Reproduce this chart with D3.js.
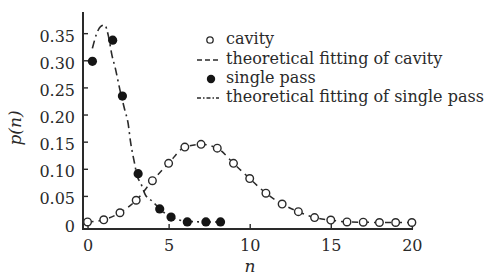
<!DOCTYPE html>
<html><head><meta charset="utf-8">
<script src="https://cdn.jsdelivr.net/npm/d3@7"></script>
<style>body{margin:0;background:#fff}svg{display:block}</style>
</head><body>
<script>
// ---- data ----
const cavityN = [0,1,2,3,4,5,6,7,8,9,10,11,12,13,14,15,16,17,18,19,20];
const cavityP = [0.002,0.006,0.019,0.042,0.078,0.110,0.140,0.145,0.138,0.110,0.082,0.055,0.035,0.021,0.010,0.0055,0.002,0.0015,0.001,0.001,0.001];
const singleN = [0.3,1.55,2.15,3.12,4.45,5.15,6.15,7.3,8.2];
const singleP = [0.298,0.337,0.234,0.091,0.026,0.011,0.002,0.002,0.002];
const singleFitN = [0.3,0.55,0.8,1.05,1.3,1.5,1.7,2.0,2.3,2.5,2.65,2.9,3.05,3.3,3.55,4.0,4.4,5.0,5.5,6.2,7.3,8.2];
const singleFitP = [0.322,0.348,0.362,0.365,0.343,0.310,0.287,0.245,0.208,0.184,0.150,0.110,0.088,0.072,0.053,0.040,0.028,0.013,0.007,0.003,0.002,0.002];
const xTicks = [0,5,10,15,20];
const yTicks = [0,0.05,0.10,0.15,0.20,0.25,0.30,0.35];
const yTickLabels = ["0","0.05","0.10","0.15","0.20","0.25","0.30","0.35"];
const legendLabels = ["cavity","theoretical fitting of cavity","single pass","theoretical fitting of single pass"];

const W = 490, H = 276;
const ink = "#2a2a2a";
const serif = "\"DejaVu Serif\", serif";
const svg = d3.select("body").append("svg").attr("width", W).attr("height", H);

const x = d3.scaleLinear().domain([-0.28, 20.07]).range([83, 413]);
const y = d3.scaleLinear().domain([-0.011, 0.389]).range([229, 12]);

// axes
const yAxis = d3.axisLeft(y).tickValues(yTicks).tickSize(-5).tickPadding(8)
  .tickFormat((d,i) => yTickLabels[i]);
const gy = svg.append("g").attr("transform", `translate(83,0)`).call(yAxis);
const xAxis = d3.axisBottom(x).tickValues(xTicks).tickSize(-5).tickPadding(11);
const gx = svg.append("g").attr("transform", `translate(0,229)`).call(xAxis);
[gx, gy].forEach(g => {
  g.attr("font-family", null).attr("font-size", null);
  g.select(".domain").remove();
  g.selectAll(".tick line").attr("stroke", ink).attr("stroke-width", 1.4);
  g.selectAll(".tick text").attr("fill", ink).style("font-family", serif)
    .style("font-size", "16px");
});
gy.selectAll(".tick text").attr("dy", "0.5em");
// spines
svg.append("line").attr("x1", 83).attr("x2", 83).attr("y1", 12).attr("y2", 230)
  .attr("stroke", ink).attr("stroke-width", 2);
svg.append("line").attr("x1", 82).attr("x2", 413).attr("y1", 229).attr("y2", 229)
  .attr("stroke", ink).attr("stroke-width", 2);

// axis titles
svg.append("text").attr("x", 250).attr("y", 272).attr("text-anchor", "middle")
  .style("font-family", serif).style("font-style", "italic").style("font-size", "17px")
  .attr("fill", ink).text("n");
svg.append("text").attr("transform", "translate(21,128) rotate(-90)").attr("text-anchor", "middle")
  .style("font-family", serif).style("font-style", "italic").style("font-size", "17px")
  .attr("fill", ink).text("p(n)");

// lines
const cavLine = d3.line().x((d,i) => x(cavityN[i])).y(d => y(d)).curve(d3.curveMonotoneX);
svg.append("path").datum(cavityP).attr("d", cavLine).attr("fill", "none")
  .attr("stroke", ink).attr("stroke-width", 1.5).attr("stroke-dasharray", "6,5");
const spLine = d3.line().x((d,i) => x(singleFitN[i])).y(d => y(d)).curve(d3.curveMonotoneX);
svg.append("path").datum(singleFitP).attr("d", spLine).attr("fill", "none")
  .attr("stroke", ink).attr("stroke-width", 1.6).attr("stroke-dasharray", "8,4,2,4");

// points
svg.append("g").selectAll("circle").data(cavityP).join("circle")
  .attr("cx", (d,i) => x(cavityN[i])).attr("cy", d => y(d)).attr("r", 3.8)
  .attr("fill", "#fff").attr("stroke", ink).attr("stroke-width", 1.4);
svg.append("g").selectAll("circle").data(singleP).join("circle")
  .attr("cx", (d,i) => x(singleN[i])).attr("cy", d => y(d)).attr("r", 4.6)
  .attr("fill", "#151515");

// legend
const lg = svg.append("g");
const rowsY = [40, 60, 79, 98];
lg.append("circle").attr("cx", 210).attr("cy", rowsY[0]).attr("r", 3.2)
  .attr("fill", "#fff").attr("stroke", ink).attr("stroke-width", 1.3);
lg.append("line").attr("x1", 197).attr("x2", 219).attr("y1", rowsY[1]).attr("y2", rowsY[1])
  .attr("stroke", ink).attr("stroke-width", 1.4).attr("stroke-dasharray", "5,3");
lg.append("circle").attr("cx", 211).attr("cy", rowsY[2]).attr("r", 4.2).attr("fill", "#151515");
lg.append("line").attr("x1", 197).attr("x2", 219).attr("y1", rowsY[3]).attr("y2", rowsY[3])
  .attr("stroke", ink).attr("stroke-width", 1.4).attr("stroke-dasharray", "4,2,1.5,2");
lg.selectAll("text").data(legendLabels).join("text")
  .attr("x", 226).attr("y", (d,i) => rowsY[i] + 4)
  .style("font-family", serif).style("font-size", "16px")
  .attr("fill", ink)
  .text(d => d);
</script>
</body></html>
